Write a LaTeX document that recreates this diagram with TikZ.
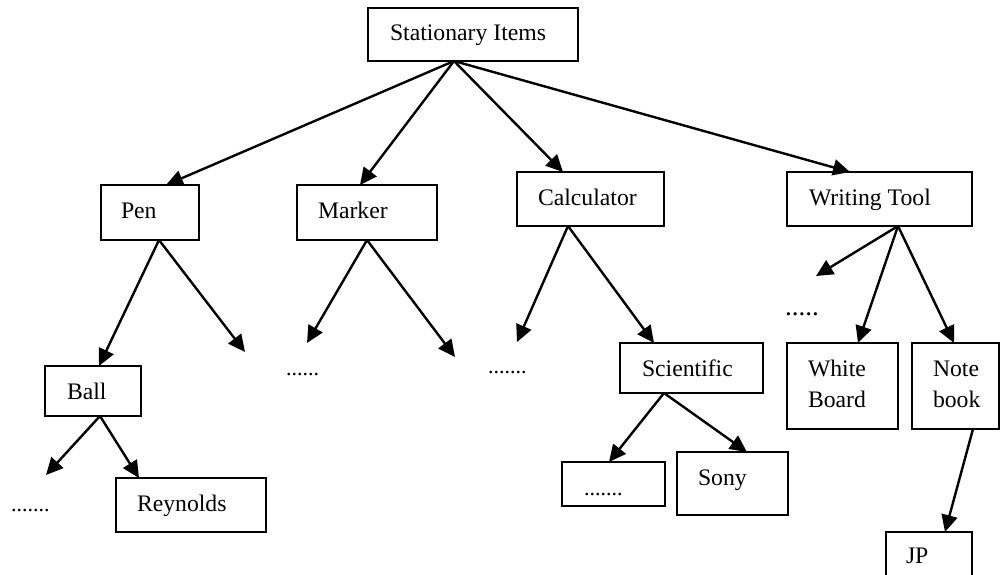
\documentclass[tikz,border=0pt]{standalone}
\usepackage{fontspec}
\setmainfont{Liberation Serif}
\usetikzlibrary{arrows.meta}
\begin{document}
\begin{tikzpicture}[x=1pt,y=-1pt,
  box/.style={draw, line width=1.6pt, inner sep=0pt, outer sep=0pt, rectangle},
  lbl/.style={anchor=base west, inner sep=0pt, outer sep=0pt, font=\fontsize{23.7}{32}\selectfont},
  dots/.style={anchor=base west, inner sep=0pt, outer sep=0pt, font=\fontsize{22}{28}\selectfont},
  arr/.style={line width=2.4pt, -{Triangle[length=17pt,width=16pt]}}]
\useasboundingbox (0,0) rectangle (1000,574);
% boxes
\node[box, minimum width=210pt, minimum height=53pt] (stat) at (473,34.5) {};
\node[box, minimum width=98pt, minimum height=55pt] (pen) at (150,212.5) {};
\node[box, minimum width=140pt, minimum height=55pt] (marker) at (367,212.5) {};
\node[box, minimum width=147pt, minimum height=54pt] (calc) at (590.5,199) {};
\node[box, minimum width=185pt, minimum height=54pt] (wt) at (879.5,199) {};
\node[box, minimum width=96pt, minimum height=50pt] (ball) at (93,391) {};
\node[box, minimum width=150pt, minimum height=54pt] (reyn) at (191,505) {};
\node[box, minimum width=143pt, minimum height=50pt] (sci) at (691.5,368) {};
\node[box, minimum width=103pt, minimum height=44pt] (dbox) at (613.5,484) {};
\node[box, minimum width=111pt, minimum height=63pt] (sony) at (732.5,483.5) {};
\node[box, minimum width=111pt, minimum height=86pt] (wb) at (842.5,386) {};
\node[box, minimum width=87pt, minimum height=86pt] (nb) at (955.5,386) {};
\node[box, minimum width=86pt, minimum height=46pt] (jp) at (929,555) {};
% texts
\node[lbl] (tstat) at (390,40) {Stationary Items};
\node[lbl] (tpen) at (121,218) {Pen};
\node[lbl] (tmarker) at (318,218) {Marker};
\node[lbl] (tcalc) at (538,205) {Calculator};
\node[lbl] (twt) at (809,205) {Writing Tool};
\node[lbl] (tball) at (67,399) {Ball};
\node[lbl] (treyn) at (137,511) {Reynolds};
\node[lbl] (tsci) at (642,376) {Scientific};
\node[dots] (tdbox) at (584,495) {.......};
\node[lbl] (tsony) at (698,485) {Sony};
\node[lbl] (twhite) at (808,376) {White};
\node[lbl] (tboard) at (808,407) {Board};
\node[lbl] (tnote) at (933,376) {Note};
\node[lbl] (tbook) at (933,407) {book};
\node[lbl] (tjp) at (906,563) {JP};
\node[dots] (dmarker) at (286,375) {......};
\node[dots] (dcalc) at (488,373) {.......};
\node[dots] (dball) at (11,511) {.......};
\node[dots, font=\fontsize{27}{32}\selectfont] (dwt) at (785,315) {.....};
% free ends
\coordinate (epen) at (245,352);
\coordinate (emarkL) at (307,343);
\coordinate (emarkR) at (455,357);
\coordinate (ecalc) at (517,342);
\coordinate (eball) at (46,475);
\coordinate (ewt) at (816,276);
% arrows
\draw[arr] ([xshift=86pt]stat.south west) -- ([xshift=65pt]pen.north west);
\draw[arr] ([xshift=86pt]stat.south west) -- ([xshift=63pt]marker.north west);
\draw[arr] ([xshift=86pt]stat.south west) -- ([xshift=46pt]calc.north west);
\draw[arr] ([xshift=86pt]stat.south west) -- ([xshift=63pt]wt.north west);
\draw[arr] ([xshift=58pt]pen.south west) -- ([xshift=54pt]ball.north west);
\draw[arr] ([xshift=58pt]pen.south west) -- (epen);
\draw[arr] ([xshift=70pt]marker.south west) -- (emarkL);
\draw[arr] ([xshift=70pt]marker.south west) -- (emarkR);
\draw[arr] ([xshift=51pt]calc.south west) -- (ecalc);
\draw[arr] ([xshift=51pt]calc.south west) -- ([xshift=34pt]sci.north west);
\draw[arr] ([xshift=55pt]ball.south west) -- (eball);
\draw[arr] ([xshift=55pt]ball.south west) -- ([xshift=23pt]reyn.north west);
\draw[arr] ([xshift=44pt]sci.south west) -- ([xshift=47pt]dbox.north west);
\draw[arr] ([xshift=44pt]sci.south west) -- ([xshift=70pt]sony.north west);
\draw[arr] ([xshift=111pt]wt.south west) -- (ewt);
\draw[arr] ([xshift=111pt]wt.south west) -- ([xshift=71pt]wb.north west);
\draw[arr] ([xshift=111pt]wt.south west) -- ([xshift=42pt]nb.north west);
\draw[arr] ([xshift=61pt]nb.south west) -- ([xshift=59pt]jp.north west);
\end{tikzpicture}
\end{document}
